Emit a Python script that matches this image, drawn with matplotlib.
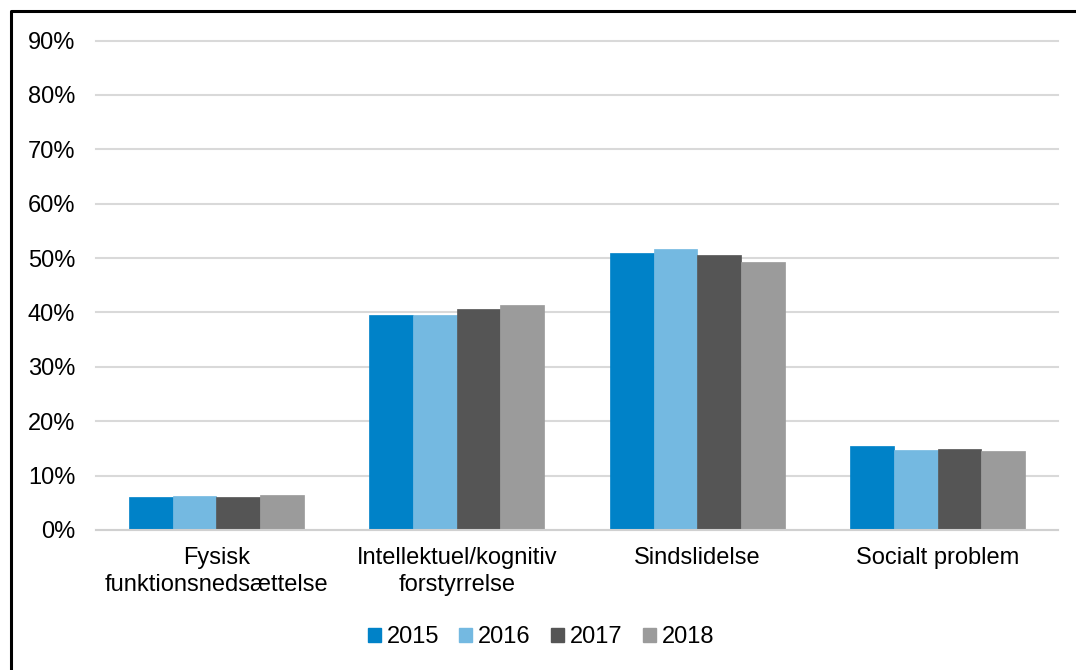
import matplotlib
matplotlib.use("Agg")
import matplotlib.pyplot as plt
from matplotlib.lines import Line2D
from matplotlib.patches import Patch
import numpy as np

plt.rcParams['font.family'] = ['Liberation Sans', 'DejaVu Sans']

categories = ["Fysisk\nfunktionsnedsættelse", "Intellektuel/kognitiv\nforstyrrelse",
              "Sindslidelse", "Socialt problem"]
years = ["2015", "2016", "2017", "2018"]
values = {
    "2015": [6.0, 39.5, 51.0, 15.5],
    "2016": [6.2, 39.5, 51.7, 14.8],
    "2017": [6.1, 40.6, 50.5, 14.9],
    "2018": [6.5, 41.4, 49.3, 14.6],
}
colors = ["#0082C8", "#74B9E1", "#555555", "#9B9B9B"]
yticks = [0, 10, 20, 30, 40, 50, 60, 70, 80, 90]

W, H = 1076, 670
FS = 17
fig = plt.figure(figsize=(W / 100, H / 100), dpi=100)
ax = fig.add_axes([96 / W, 1 - 530 / H, (1058 - 96) / W, (530 - 40.5) / H])

x = np.arange(len(categories))
bw = 0.1816
for i, y in enumerate(years):
    ax.bar(x + (i - 1.5) * bw, values[y], width=bw, color=colors[i],
           edgecolor=colors[i], linewidth=0.5, zorder=3)

ax.set_xlim(-0.5, len(categories) - 0.5)
ax.set_ylim(0, 90)
ax.set_yticks(yticks)
ax.set_yticklabels([f"{t}%" for t in yticks])
ax.set_xticks(x)
ax.set_xticklabels(categories, linespacing=1.3)
ax.tick_params(axis='both', length=0, labelsize=FS, colors="#000000")
ax.tick_params(axis='y', pad=15)
ax.tick_params(axis='x', pad=12)
ax.grid(axis='y', color="#D9D9D9", linewidth=1.5, zorder=0)
for gl in ax.get_ygridlines():
    gl.set_clip_on(False)
for s in ['left', 'right', 'top']:
    ax.spines[s].set_visible(False)
ax.spines['bottom'].set_color("#D0D0D0")
ax.spines['bottom'].set_linewidth(1.5)
ax.spines['bottom'].set_zorder(4)

handles = [Patch(facecolor=c, edgecolor=c) for c in colors]
fig.legend(handles, years, loc='center', bbox_to_anchor=(541 / W, 1 - 637 / H),
           ncol=4, frameon=False, fontsize=FS, handlelength=0.55, handleheight=0.55,
           handletextpad=0.25, columnspacing=0.85)

# outer border (top & left visible)
fig.add_artist(Line2D([11 / W, 11 / W, 1.0], [0.0, 1 - 11 / H, 1 - 11 / H],
                      transform=fig.transFigure, color="black", linewidth=2.2))

fig.savefig("out.png", dpi=100)
